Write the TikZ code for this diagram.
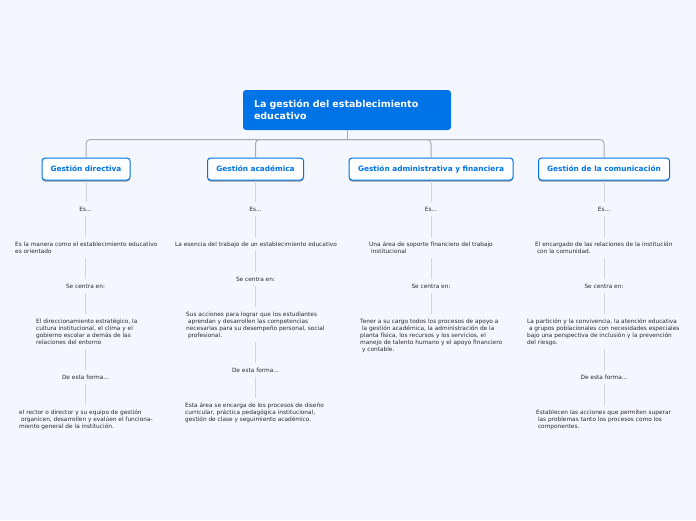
\documentclass[tikz,border=0pt]{standalone}
\usepackage{fontspec}
\setmainfont{DejaVu Sans}
\usetikzlibrary{shadows}
\definecolor{bgc}{HTML}{F4F7FF}
\definecolor{blu}{HTML}{0073E6}
\definecolor{hubc}{HTML}{A8AAAE}
\definecolor{conc}{HTML}{D3D6DE}
\definecolor{txt}{HTML}{2A2A30}
\tikzset{
  x=1pt,y=-1pt,
  rootbox/.style={fill=blu,text=white,rounded corners=3pt,minimum width=208pt,minimum height=40pt,
    inner xsep=11pt,inner ysep=0pt,text width=186pt,align=left,
    font=\bfseries\fontsize{9.5}{12.4}\selectfont},
  topicbox/.style={draw=blu,line width=1pt,fill=white,rounded corners=3pt,text=blu,minimum height=22pt,inner sep=0pt,
    text height=7.2pt,text depth=2pt,
    font=\bfseries\fontsize{7.35}{9}\selectfont,
    drop shadow={shadow xshift=0pt,shadow yshift=-1.5pt,fill=black!80,opacity=.5}},
  small/.style={text=txt,inner sep=0pt,font=\fontsize{5.83}{7.1}\selectfont,
    execute at begin node={\strut},execute at end node={\strut}},
  lab/.style={small,anchor=center},
  para/.style={small,anchor=north west,align=left},
  hubline/.style={draw=hubc,line width=1pt},
  conn/.style={draw=conc,line width=1pt,shorten <=2.5pt,shorten >=4.5pt},
  first/.style={draw=conc,line width=1pt,shorten >=4.5pt}
}
\newcommand{\ind}{\hspace*{1.8pt}}
\begin{document}
\begin{tikzpicture}
\useasboundingbox[fill=bgc] (0,0) rectangle (696,520);
\node[rootbox] (root) at (347,110) {La gestión del establecimiento\\educativo};
\coordinate (hub) at (347,139.5);
\node[topicbox,minimum width=88pt] (c1) at (86,169) {Gestión directiva};
\node[topicbox,minimum width=96pt] (c2) at (255.5,169) {Gestión académica};
\node[topicbox,minimum width=164pt] (c3) at (431,169) {Gestión administrativa y financiera};
\node[topicbox,minimum width=131pt] (c4) at (604,169) {Gestión de la comunicación};
\draw[hubline] (root.south -| hub) -- (hub);
\foreach \c in {c1,c2,c3,c4}{\draw[hubline,rounded corners=4pt] (\c.north) |- (hub);}
% column 1
\node[lab] (a1) at (85.5,210) {Es...};
\node[para] (a2) at (15,241.45) {Es la manera como el establecimiento educativo\\es orientado};
\node[lab] (a3) at (85.5,287) {Se centra en:};
\node[para] (a4) at (36,318.45) {El direccionamiento estratégico, la\\cultura institucional, el clima y el\\gobierno escolar a demás de las\\relaciones del entorno};
\node[lab] (a5) at (85.5,378) {De esta forma...};
\node[para] (a6) at (19,409.45) {el rector o director y su equipo de gestión\\\ind organicen, desarrollen y evalúen el funciona-\\miento general de la institución.};
% column 2
\node[lab] (b1) at (255.5,210) {Es...};
\node[para] (b2) at (175,241.45) {La esencia del trabajo de un establecimiento educativo};
\node[lab] (b3) at (255.5,280) {Se centra en:};
\node[para] (b4) at (186,311.45) {Sus acciones para lograr que los estudiantes\\\ind aprendan y desarrollen las competencias\\necesarias para su desempeño personal, social\\\ind profesional.};
\node[lab] (b5) at (255.5,371) {De esta forma...};
\node[para] (b6) at (185,402.45) {Esta área se encarga de los procesos de diseño\\curricular, práctica pedagógica institucional,\\gestión de clase y seguimiento académico.};
% column 3
\node[lab] (d1) at (431,210) {Es...};
\node[para] (d2) at (369,241.45) {Una área de soporte financiero del trabajo\\\ind institucional};
\node[lab] (d3) at (431,287) {Se centra en:};
\node[para] (d4) at (360,318.45) {Tener a su cargo todos los procesos de apoyo a\\\ind la gestión académica, la administración de la\\planta física, los recursos y los servicios, el\\manejo de talento humano y el apoyo financiero\\\ind y contable.};
% column 4
\node[lab] (e1) at (604,210) {Es...};
\node[para] (e2) at (535,241.45) {El encargado de las relaciones de la institución\\\ind con la comunidad.};
\node[lab] (e3) at (604,287) {Se centra en:};
\node[para] (e4) at (527,318.45) {La partición y la convivencia, la atención educativa\\\ind a grupos poblacionales con necesidades especiales\\bajo una perspectiva de inclusión y la prevención\\del riesgo.};
\node[lab] (e5) at (604,378) {De esta forma...};
\node[para] (e6) at (536,409.45) {Establecen las acciones que permiten superar\\\ind las problemas tanto los procesos como los\\\ind componentes.};
% connectors
\draw[first] (c1.south) -- (a1.north -| c1.south);
\draw[first] (c2.south) -- (b1.north -| c2.south);
\draw[first] (c3.south) -- (d1.north -| c3.south);
\draw[first] (c4.south) -- (e1.north -| c4.south);
\foreach \p/\l/\q/\m in {a1/a2/a3/a4,a3/a4/a5/a6,b1/b2/b3/b4,b3/b4/b5/b6,d1/d2/d3/d4,e1/e2/e3/e4,e3/e4/e5/e6}{
  \draw[conn] (\p.south) -- (\p.south |- \l.north);
  \draw[conn] (\l.south -| \q.north) -- (\q.north);
  \draw[conn] (\q.south) -- (\q.south |- \m.north);
}
\end{tikzpicture}
\end{document}
